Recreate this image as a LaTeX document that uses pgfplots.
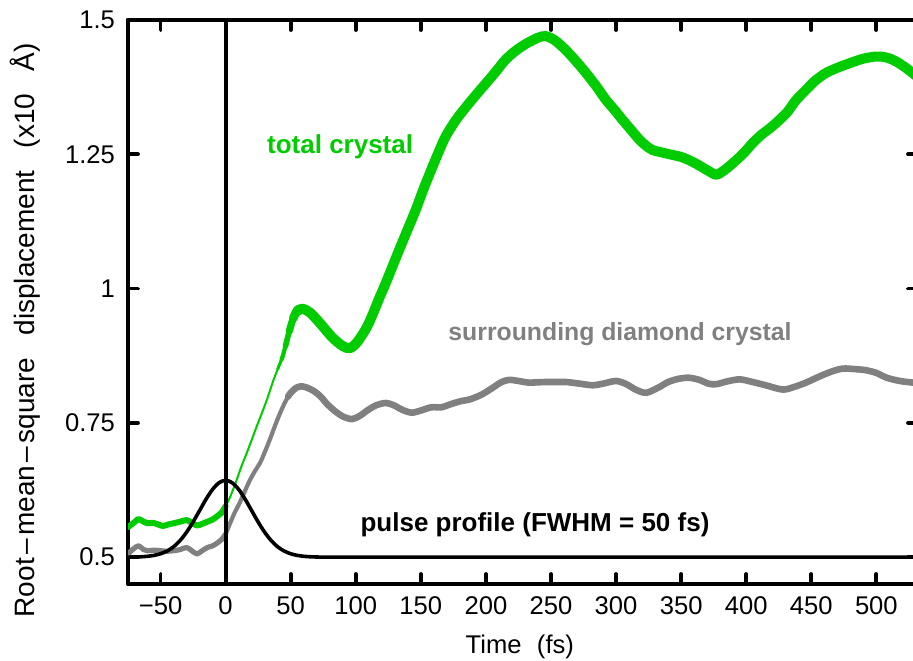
\documentclass[border=0pt]{standalone}
\usepackage{fontspec}
\setmainfont{Liberation Sans}
\usepackage{pgfplots}
\pgfplotsset{compat=1.18}
\definecolor{cgreen}{RGB}{0,204,0}
\definecolor{cgray}{RGB}{128,128,128}
\begin{document}
\begin{tikzpicture}
\begin{axis}[name=ax, scale only axis, width=395pt, height=282pt,
  xmin=-75, xmax=532, ymin=0.45, ymax=1.5,
  axis line style={line width=2.2pt},
  tick style={line width=1.9pt, black}, major tick length=5pt, tick align=inside,
  xtick={-50,0,...,500}, xticklabels={−50,0,50,100,150,200,250,300,350,400,450,500},
  ytick={0.5,0.75,1,1.25,1.5}, yticklabels={0.5,0.75,1,1.25,1.5},
  font=\fontsize{12.8}{15}\selectfont,
  xticklabel style={yshift=-3pt}, yticklabel style={xshift=-3pt},
  xlabel={\spaceskip=0.6em Time (fs)},
  ylabel={\spaceskip=0.8em Root\kern0.12em–\kern0.12em mean\kern0.12em–\kern0.12em square displacement (x10 Å)},
  xlabel style={at={(axis description cs:0.496,-0.112)}, anchor=center},
  ylabel style={at={(axis description cs:-0.1304,0.45)}, anchor=center, font=\fontsize{14}{16}\selectfont},
  line cap=round, line join=round]

% gray: surrounding diamond crystal
\addplot[cgray, line width=2.6pt, smooth] coordinates {
(-75,0.506) (-71,0.515) (-67,0.521) (-63,0.514) (-60,0.512) (-55,0.513) (-50,0.512)
(-45,0.511) (-40,0.512) (-35,0.514) (-30,0.518) (-26,0.512) (-22,0.506) (-18,0.512)
(-14,0.518) (-10,0.521) (-6,0.527) (-3,0.533) (0,0.543)};
\addplot[cgray, line width=2.1pt, smooth] coordinates {
(0,0.543) (3.6,0.564) (7,0.583) (11,0.602) (15,0.624) (19,0.645) (23,0.662) (26.6,0.676)
(30,0.695) (34,0.719) (38,0.745) (42,0.769) (46,0.790) (50,0.806) (52,0.811)};
\addplot[cgray, line width=3.3pt, smooth] coordinates {
(48,0.799) (50,0.806) (54,0.815) (58,0.818) (62,0.816) (68,0.809) (73,0.799) (78,0.785) (84,0.772)
(90,0.762) (97,0.757) (103,0.763) (110,0.775) (116,0.783) (123,0.787) (129,0.783)
(136,0.774) (143,0.769) (150,0.773) (158,0.779) (166,0.779) (172,0.784) (180,0.790)
(188,0.794) (197,0.803) (205,0.815) (212,0.826) (218,0.830) (225,0.828) (233,0.825)
(245,0.826) (255,0.826) (262,0.826) (272,0.823) (282,0.820) (290,0.823) (300,0.828)
(308,0.822) (315,0.812) (323,0.806) (332,0.815) (340,0.826) (348,0.832) (356,0.834)
(364,0.830) (371,0.823) (377,0.822) (385,0.827) (395,0.831) (405,0.826) (415,0.820)
(428,0.812) (437,0.817) (446,0.825) (455,0.835) (465,0.845) (474,0.851) (484,0.850)
(492,0.848) (500,0.843) (508,0.834) (518,0.828) (528,0.825) (532,0.824)};

% green: total crystal
\addplot[cgreen, line width=3pt, smooth] coordinates {
(-75,0.556) (-70,0.565) (-67,0.571) (-63,0.566) (-60,0.563) (-56,0.564) (-52,0.561)
(-48,0.558) (-44,0.561) (-40,0.563) (-35,0.566) (-30,0.569) (-26,0.564) (-22,0.559)
(-18,0.562) (-14,0.566) (-10,0.570) (-6,0.577) (-3,0.583) (0,0.595)};
\addplot[cgreen, line width=1pt, smooth] coordinates {
(0,0.595) (4,0.615) (8.7,0.645) (12,0.668) (16.4,0.695) (20,0.718) (24,0.744) (28,0.769)
(32,0.795) (37,0.831) (42,0.862) (44,0.875) (46,0.893) (48,0.912) (50,0.930) (52,0.945)
(54,0.955) (56,0.960) (58,0.962) (60,0.962)};
\addplot[cgreen, line width=1.5pt, smooth] coordinates {
(40,0.850) (42,0.862) (44,0.875) (46,0.893) (48,0.912) (50,0.930)};
\addplot[cgreen, line width=2.1pt, smooth] coordinates {
(43,0.868) (44,0.875) (46,0.893) (48,0.912) (50,0.930) (52,0.945)};
\addplot[cgreen, line width=2.8pt, smooth] coordinates {
(46,0.893) (48,0.912) (50,0.930) (52,0.945) (54,0.955)};
\addplot[cgreen, line width=3.6pt, smooth] coordinates {
(49,0.921) (50,0.930) (52,0.945) (54,0.955) (56,0.960) (58,0.962)};
\addplot[cgreen, line width=4.3pt, smooth] coordinates {
(52,0.945) (54,0.955) (56,0.960) (58,0.962) (60,0.962)};
\addplot[cgreen, line width=5pt, smooth] coordinates {
(55,0.958) (56,0.960) (58,0.962) (60,0.962) (65,0.955) (72,0.937)
(82,0.909) (90,0.893) (95.5,0.889) (101,0.900)
(108,0.926) (113,0.952) (118,0.982) (123,1.010) (128,1.040) (133,1.070) (139,1.105)
(146,1.146) (152,1.185) (159,1.227) (164,1.256) (169,1.283) (177,1.314) (185,1.339)
(195,1.368) (200,1.382) (208,1.405) (215,1.426) (223,1.443) (231,1.456) (240,1.467)
(246,1.470) (253,1.462) (261,1.445) (269,1.424) (277,1.401) (285,1.376) (292,1.352)
(299,1.332) (305,1.314) (312,1.294) (318,1.277) (323,1.266) (328,1.258) (336,1.253)
(343,1.249) (350,1.245) (357,1.238) (364,1.229) (371,1.219) (377,1.212) (383,1.220)
(390,1.234) (398,1.252) (405,1.271) (412,1.287) (420,1.302) (431,1.327) (438,1.350)
(446,1.370) (453,1.387) (461,1.401) (470,1.411) (480,1.420) (490,1.428) (500,1.432)
(508,1.430) (515,1.423) (522,1.412) (528,1.401) (532,1.393)};

% pulse profile
\addplot[black, line width=1.8pt, smooth] coordinates {
(-75,0.5001) (-70,0.5003) (-65,0.5007) (-60,0.5016) (-55,0.5033) (-50,0.5063) (-45,0.5114)
(-40,0.5193) (-35,0.5309) (-30,0.5464) (-25,0.5655) (-20,0.5867) (-15,0.608) (-10,0.6262)
(-5,0.6386) (0,0.643) (5,0.6386) (10,0.6262) (15,0.608) (20,0.5867) (25,0.5655)
(30,0.5464) (35,0.5309) (40,0.5193) (45,0.5114) (50,0.5063) (55,0.5033) (60,0.5016)
(65,0.5007) (70,0.5003) (75,0.5001) (100,0.5) (200,0.5) (300,0.5) (400,0.5) (532,0.5)};

% t = 0 line
\addplot[black, line width=2pt] coordinates {(0,0.45) (0,1.5)};

\node[cgreen, font=\bfseries\fontsize{13}{15}\selectfont] at (axis cs:88,1.264) {total crystal};
\node[cgray, font=\bfseries\fontsize{12.4}{15}\selectfont] at (axis cs:303,0.9145) {surrounding diamond crystal};
\node[black, font=\bfseries\fontsize{13}{15}\selectfont] at (axis cs:237.7,0.561) {pulse profile (FWHM = 50 fs)};
\end{axis}
\pgfresetboundingbox
\path[use as bounding box] (ax.south west) ++(-64pt,-38pt) rectangle ++(456.5pt,330pt);
\end{tikzpicture}
\end{document}
